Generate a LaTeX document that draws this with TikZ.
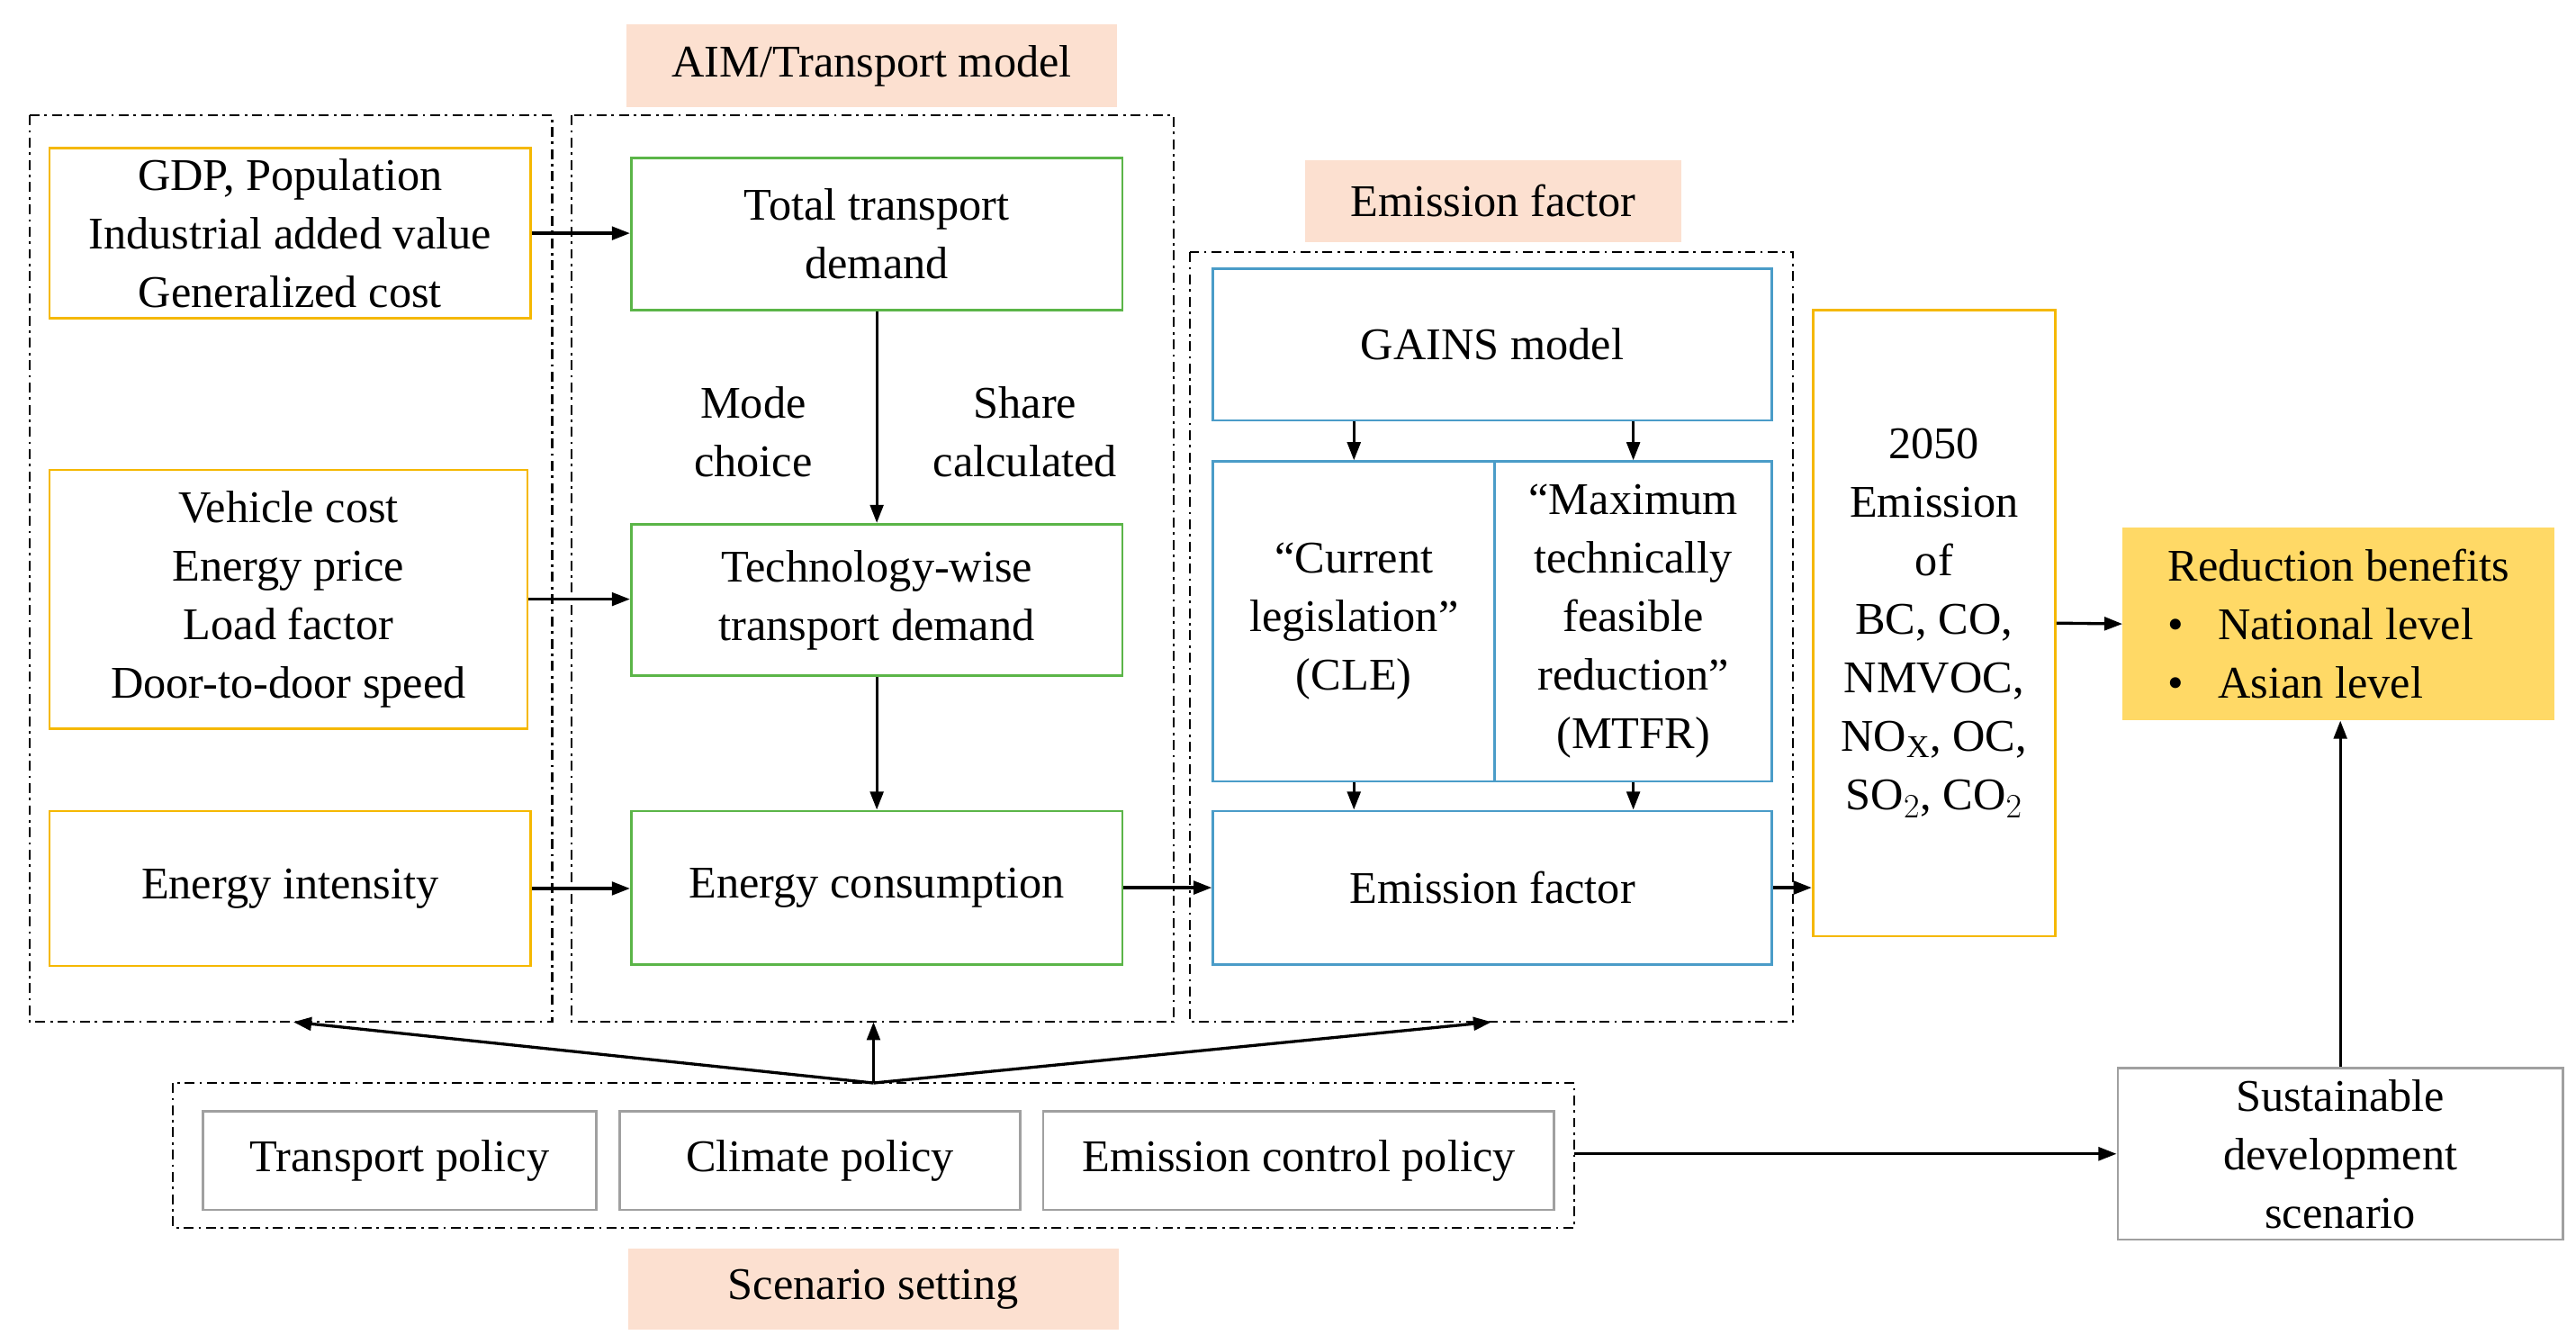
\documentclass[tikz,border=0pt]{standalone}
\usepackage{fontspec}
\setmainfont{Liberation Serif}
\usetikzlibrary{arrows.meta}
\definecolor{yel}{HTML}{F5B800}
\definecolor{grn}{HTML}{5BB548}
\definecolor{blu}{HTML}{4A9CC8}
\definecolor{gry}{HTML}{A0A0A0}
\definecolor{pch}{HTML}{FCE0D0}
\definecolor{yfill}{HTML}{FFD966}
\begin{document}
\begin{tikzpicture}[x=1pt,y=-1pt,
  txt/.style={font=\fontsize{27.5}{35.5}\selectfont,align=center,inner sep=0pt},
  bx/.style={draw,line width=1.5pt,txt},
  yb/.style={bx,draw=yel},
  gb/.style={bx,draw=grn},
  bb/.style={bx,draw=blu},
  hb/.style={bx,draw=gry},
  tt/.style={txt,fill=pch},
  dd/.style={line width=1.2pt,dash pattern=on 6pt off 3pt on 1.5pt off 3pt},
  ar/.style={line width=1.8pt,-{Triangle[length=11pt,width=8pt]}}]
\useasboundingbox (0,0) rectangle (1563,815);
% titles
\node[tt,minimum width=298,minimum height=50] (t1) at (529,40) {AIM/Transport model};
\node[tt,minimum width=228,minimum height=50] (t2) at (906,122) {Emission factor};
\node[tt,minimum width=298,minimum height=49] (t3) at (530,782) {Scenario setting};
% dash-dot boxes
\draw[dd] (18,70) rectangle (335,620);
\draw[dd] (347,70) rectangle (712,620);
\draw[dd] (722,153) rectangle (1088,620);
\draw[dd] (105,657) rectangle (955,745);
% yellow
\node[yb,minimum width=292,minimum height=103] (gdp) at (176,141.5) {GDP, Population\\Industrial added value\\Generalized cost};
\node[yb,minimum width=290,minimum height=157] (veh) at (175,363.5) {Vehicle cost\\Energy price\\Load factor\\Door-to-door speed};
\node[yb,minimum width=292,minimum height=94] (ei) at (176,539) {Energy intensity};
% green
\node[gb,minimum width=298,minimum height=92] (tot) at (532,142) {Total transport\\demand};
\node[gb,minimum width=298,minimum height=92] (tech) at (532,364) {Technology-wise\\transport demand};
\node[gb,minimum width=298,minimum height=93] (ec) at (532,538.5) {Energy consumption};
\node[txt] (mc) at (457,262) {Mode\\choice};
\node[txt] (sc) at (622,262) {Share\\calculated};
% blue
\node[bb,minimum width=339,minimum height=92] (gains) at (905.5,209) {GAINS model};
\node[bb,minimum width=171,minimum height=194] (cle) at (821.5,377) {“Current\\legislation”\\(CLE)};
\node[bb,minimum width=168,minimum height=194] (mtfr) at (991,377) {“Maximum\\technically\\feasible\\reduction”\\(MTFR)};
\node[bb,minimum width=339,minimum height=93] (ef) at (905.5,538.5) {Emission factor};
% 2050
\node[yb,minimum width=147,minimum height=380] (em) at (1173.5,378) {2050\\Emission\\of\\BC, CO,\\NMVOC,\\NO$_\mathrm{X}$, OC,\\SO$_2$, CO$_2$};
\node[txt,fill=yfill,minimum width=262,minimum height=117,align=left] (rb) at (1419,378.5) {Reduction benefits\\\textbullet\ \ \ National level\\\textbullet\ \ \ Asian level};
\node[hb,minimum width=270,minimum height=104] (sd) at (1420,700) {Sustainable\\development\\scenario};
% policies
\node[hb,minimum width=239,minimum height=60] (tp) at (242.5,704) {Transport policy};
\node[hb,minimum width=243,minimum height=60] (cp) at (497.5,704) {Climate policy};
\node[hb,minimum width=310,minimum height=60] (ecp) at (788,704) {Emission control policy};
% arrows
\draw[ar] (gdp.east) -- (tot.west|-gdp.east);
\draw[ar] (veh.east) -- (tech.west|-veh.east);
\draw[ar] (ei.east) -- (ec.west|-ei.east);
\draw[ar] (tot) -- (tech);
\draw[ar] (tech) -- (ec);
\draw[ar] (ec.east) -- (ef.west);
\draw[ar] (ef.east) -- (em.west|-ef.east);
\draw[ar] (em.east) -- (rb.west);
\draw[ar] (gains.south-|cle) -- (cle.north);
\draw[ar] (gains.south-|mtfr) -- (mtfr.north);
\draw[ar] (cle.south) -- (ef.north-|cle);
\draw[ar] (mtfr.south) -- (ef.north-|mtfr);
\coordinate (j) at (530,657);
\draw[ar] (j) -- (530,620);
\draw[ar] (j) -- (178,620);
\draw[ar] (j) -- (905,620);
\draw[ar] (955,700) -- (sd.west);
\draw[ar] (sd.north) -- (rb.south-|sd.north);
\end{tikzpicture}
\end{document}
